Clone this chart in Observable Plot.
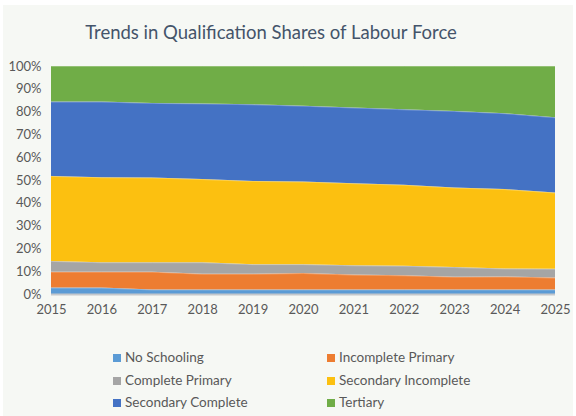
<!DOCTYPE html>
<html>
<head>
<meta charset="utf-8">
<script src="https://cdn.jsdelivr.net/npm/d3@7"></script>
<script src="https://cdn.jsdelivr.net/npm/@observablehq/plot@0.6"></script>
<style>
  html, body { margin: 0; padding: 0; background: #ffffff; }
  #panel { position: absolute; left: 3px; top: 5px; width: 570px; height: 411px; background: #f6f8f4; }
  #title { position: absolute; left: 0; top: 21px; width: 542px; text-align: center; font-family: Lato, sans-serif; font-size: 18.5px; color: #44546a; }
  #chart { position: absolute; left: 0; top: 50px; }
  .leg { position: absolute; font-family: Lato, sans-serif; font-size: 13.5px; color: #595959; white-space: nowrap; }
  .sw { display: inline-block; width: 8px; height: 8px; margin-right: 4px; vertical-align: 0px; }
</style>
</head>
<body>
<div id="panel"></div>
<div id="title">Trends in Qualification Shares of Labour Force</div>
<div id="chart"></div>
<div id="legend"></div>
<script>
const years = [2015, 2016, 2017, 2018, 2019, 2020, 2021, 2022, 2023, 2024, 2025];
const seriesNames = ["No Schooling", "Incomplete Primary", "Complete Primary", "Secondary Incomplete", "Secondary Complete", "Tertiary"];
const seriesColors = ["#5b9bd5", "#ed7d31", "#a5a5a5", "#fcc010", "#4472c4", "#70ad47"];
const noSchooling = [2.8, 2.8, 2.0, 2.0, 2.0, 2.0, 2.0, 2.0, 2.0, 2.0, 2.0];
const incompletePrimary = [7.0, 7.0, 7.8, 6.9, 6.9, 7.2, 6.5, 6.2, 5.6, 5.7, 5.2];
const completePrimary = [4.7, 4.1, 4.1, 5.0, 4.2, 3.9, 4.1, 4.2, 4.2, 3.5, 3.9];
const secondaryIncomplete = [37.3, 37.3, 37.2, 36.5, 36.5, 36.2, 36.0, 35.5, 34.9, 34.8, 33.4];
const secondaryComplete = [32.6, 33.2, 32.7, 33.2, 33.6, 33.3, 33.2, 33.1, 33.6, 33.3, 33.0];
const tertiary = [15.6, 15.6, 16.2, 16.4, 16.8, 17.4, 18.2, 19.0, 19.7, 20.7, 22.5];
const yTicks = [0, 10, 20, 30, 40, 50, 60, 70, 80, 90, 100];

const seriesValues = [noSchooling, incompletePrimary, completePrimary, secondaryIncomplete, secondaryComplete, tertiary];
const data = [];
seriesNames.forEach((name, i) => {
  years.forEach((yr, j) => data.push({year: yr, series: name, value: seriesValues[i][j]}));
});

const chart = Plot.plot({
  width: 576,
  height: 274,
  marginTop: 16,
  marginBottom: 30,
  marginLeft: 51,
  marginRight: 21,
  style: {background: "transparent", fontFamily: "Lato, sans-serif", fontSize: "13px", color: "#595959"},
  x: {domain: [2015, 2025], ticks: years, tickFormat: d => String(d), tickSize: 0, tickPadding: 10, label: null},
  y: {domain: [0, 100], ticks: yTicks, tickFormat: d => d + "%", tickSize: 0, tickPadding: 10, label: null},
  color: {domain: seriesNames, range: seriesColors},
  marks: [
    Plot.areaY(data, Plot.stackY({order: seriesNames}, {x: "year", y: "value", z: "series", fill: "series", curve: "linear"})),
    Plot.lineY(data, Plot.stackY2({order: seriesNames}, {x: "year", y: "value", z: "series", stroke: "#ffffff", strokeOpacity: 0.25, strokeWidth: 1, curve: "linear"})),
    Plot.ruleY([0], {stroke: "#c4c8cc", strokeWidth: 2})
  ]
});
document.getElementById("chart").appendChild(chart);

const legend = document.getElementById("legend");
const legX = [113, 327];
const legY = [349, 372, 394];
seriesNames.forEach((name, i) => {
  const d = document.createElement("div");
  d.className = "leg";
  d.style.left = legX[i % 2] + "px";
  d.style.top = legY[Math.floor(i / 2)] + "px";
  d.innerHTML = `<span class="sw" style="background:${seriesColors[i]}"></span>${name}`;
  legend.appendChild(d);
});
</script>
</body>
</html>
